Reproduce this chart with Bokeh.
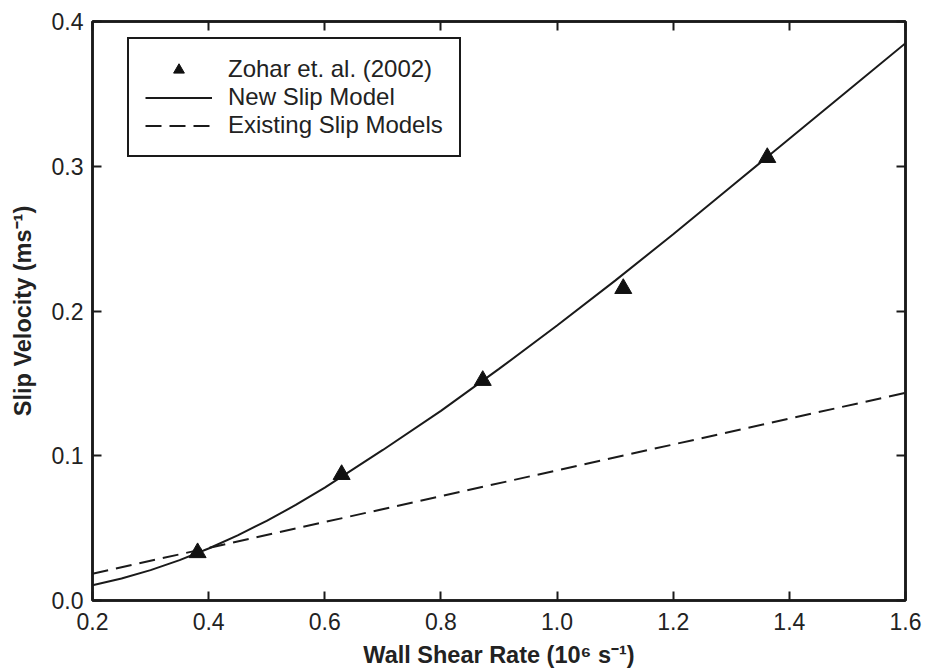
from bokeh.plotting import figure
from bokeh.models import LinearAxis, FixedTicker, NumeralTickFormatter, Legend, LegendItem, Range1d
from bokeh.embed import file_html
from bokeh.resources import INLINE

# Data
shear_data = [0.381, 0.629, 0.872, 1.114, 1.362]
slip_data = [0.033, 0.087, 0.152, 0.2155, 0.306]

shear_new = [0.2, 0.25, 0.3, 0.35, 0.4, 0.45, 0.5, 0.55, 0.6, 0.7, 0.8, 0.9, 1.0,
             1.1, 1.2, 1.3, 1.4, 1.5, 1.6]
slip_new = [0.0105, 0.0152, 0.0210, 0.0279, 0.0359, 0.0450, 0.0550, 0.0660, 0.0780,
            0.104, 0.131, 0.160, 0.190, 0.221, 0.253, 0.286, 0.319, 0.352, 0.385]

shear_old = [0.2, 1.6]
slip_old = [0.0185, 0.1435]

x_ticks = [0.2, 0.4, 0.6, 0.8, 1.0, 1.2, 1.4, 1.6]
y_ticks = [0.0, 0.1, 0.2, 0.3, 0.4]

FONT = "Liberation Sans"
TXT = "#222222"
INK = "#1a1a1a"

p = figure(width=927, height=670, output_backend="svg", toolbar_location=None,
           x_range=Range1d(0.2, 1.6), y_range=Range1d(0.0, 0.4),
           min_border_left=92, min_border_right=22, min_border_top=21, min_border_bottom=70,
           x_axis_label="Wall Shear Rate (10\u2076 s\u207b\u00b9)",
           y_axis_label="Slip Velocity (ms\u207b\u00b9)")
p.grid.visible = False
p.outline_line_color = INK
p.outline_line_width = 2.5
p.background_fill_color = "white"
p.border_fill_color = "white"

for ax, ticks in ((p.xaxis[0], x_ticks), (p.yaxis[0], y_ticks)):
    ax.ticker = FixedTicker(ticks=ticks)
    ax.formatter = NumeralTickFormatter(format="0.0")
    ax.major_tick_in = 9
    ax.major_tick_out = 0
    ax.minor_tick_line_color = None
    ax.major_tick_line_width = 2
    ax.major_tick_line_color = INK
    ax.axis_line_width = 2.5
    ax.axis_line_color = INK
    ax.major_label_text_font = FONT
    ax.major_label_text_font_size = "23px"
    ax.major_label_text_color = TXT
    ax.axis_label_text_font = FONT
    ax.axis_label_text_font_size = "23.5px"
    ax.axis_label_text_font_style = "bold"
    ax.axis_label_text_color = TXT

p.xaxis[0].major_label_standoff = 12
p.xaxis[0].axis_label_standoff = 9
p.yaxis[0].major_label_standoff = 9
p.yaxis[0].axis_label_standoff = 13

for loc, ticks in (("above", x_ticks), ("right", y_ticks)):
    ax = LinearAxis(ticker=FixedTicker(ticks=ticks))
    ax.major_tick_in = 9
    ax.major_tick_out = 0
    ax.minor_tick_line_color = None
    ax.major_tick_line_width = 2
    ax.major_tick_line_color = INK
    ax.axis_line_width = 2.5
    ax.axis_line_color = INK
    ax.major_label_text_color = None
    ax.major_label_text_font_size = "1px"
    ax.major_label_standoff = 0
    p.add_layout(ax, loc)

r_old = p.line(shear_old, slip_old, line_color=INK, line_width=2, line_dash="16 8")
r_new = p.line(shear_new, slip_new, line_color=INK, line_width=2)
r_pts = p.scatter(shear_data, slip_data, marker="triangle", size=17,
                  fill_color="#111111", line_color="#111111")

legend = Legend(items=[
    LegendItem(label="Zohar et. al. (2002)", renderers=[r_pts]),
    LegendItem(label="New Slip Model", renderers=[r_new]),
    LegendItem(label="Existing Slip Models", renderers=[r_old]),
], location=(35, 443))
legend.label_text_font = FONT
legend.label_text_font_size = "24px"
legend.label_text_color = TXT
legend.glyph_width = 67
legend.glyph_height = 27
legend.label_height = 27
legend.label_standoff = 16
legend.padding = 16
legend.spacing = 0
legend.margin = 0
legend.border_line_color = INK
legend.border_line_width = 2.5
legend.border_line_alpha = 1.0
legend.background_fill_alpha = 1.0
p.add_layout(legend, "center")

open("out.html", "w").write(file_html(p, INLINE))
